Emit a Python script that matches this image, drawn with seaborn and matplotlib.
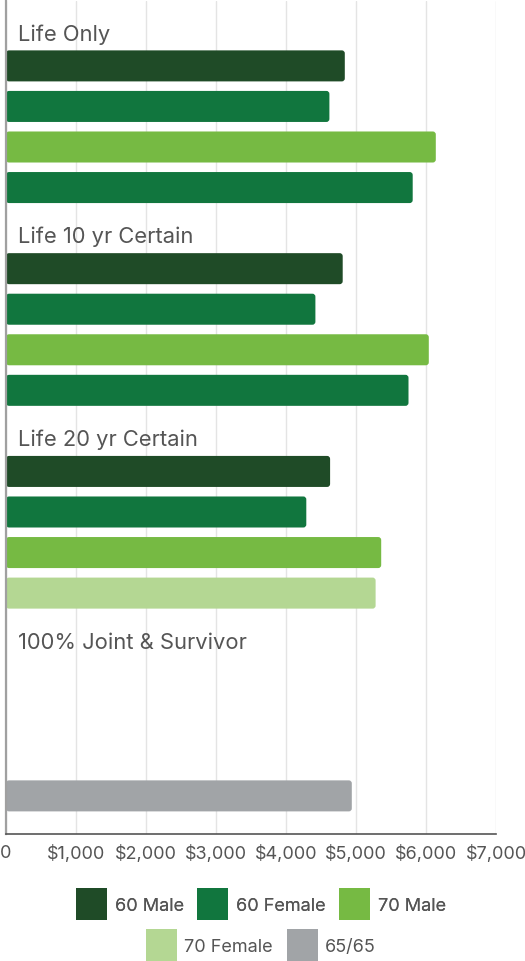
"""
Annuity monthly income comparison: horizontal grouped bars by payout option.
"""

import matplotlib

matplotlib.use("Agg")
import matplotlib.pyplot as plt
import matplotlib.transforms as mtransforms
from matplotlib.patches import FancyBboxPatch, Patch
from matplotlib.ticker import FuncFormatter, MultipleLocator
import pandas as pd
import seaborn as sns

# --- data ------------------------------------------------------------------
groups = ["Life Only", "Life 10 yr Certain", "Life 20 yr Certain", "100% Joint & Survivor"]
bar_series = ["60 Male", "60 Female", "70 Male", "70 Female"]

life_only = [4840, 4620, 6140, 5810]
life_10yr = [4810, 4420, 6040, 5750]
life_20yr = [4630, 4290, 5360, 5280]
joint_survivor = [None, None, None, 4940]

# colour used for each bar slot (the reference colours a few slots oddly)
life_only_colors = ["60 Male", "60 Female", "70 Male", "60 Female"]
life_10yr_colors = ["60 Male", "60 Female", "70 Male", "60 Female"]
life_20yr_colors = ["60 Male", "60 Female", "70 Male", "70 Female"]
joint_colors = ["60 Male", "60 Female", "70 Male", "65/65"]

legend_labels = ["60 Male", "60 Female", "70 Male", "70 Female", "65/65"]
palette = {
    "60 Male": "#1f4b27",
    "60 Female": "#11763e",
    "70 Male": "#76ba43",
    "70 Female": "#b4d793",
    "65/65": "#a1a4a7",
}

x_ticks_step = 1000
x_max = 7000

TEXT = "#555555"

# --- build a long table: one label slot + four bar slots per group ---------
rows = []
order = []
for g, vals, cols in zip(
    groups,
    [life_only, life_10yr, life_20yr, joint_survivor],
    [life_only_colors, life_10yr_colors, life_20yr_colors, joint_colors],
):
    order.append(f"{g}|label")
    for s, v, c in zip(bar_series, vals, cols):
        slot = f"{g}|{s}"
        order.append(slot)
        if v is not None:
            rows.append({"slot": slot, "value": v, "color": c})
df = pd.DataFrame(rows)

sns.set_theme(style="white")
plt.rcParams["font.family"] = ["Inter", "DejaVu Sans"]

fig = plt.figure(figsize=(5.25, 9.62), dpi=100)
ax = fig.add_axes([6 / 525, 1 - 835 / 962, 490 / 525, 833 / 962])

sns.barplot(
    data=df,
    x="value",
    y="slot",
    hue="color",
    order=order,
    palette=palette,
    saturation=1,
    dodge=False,
    width=0.765,
    legend=False,
    orient="h",
    ax=ax,
)

ax.set_xlim(0, x_max)
ax.set_ylim(19.94, -0.6)

# swap square bars for slightly rounded ones (~3 px radius)
px_per_x = 490 / x_max
px_per_y = 833 / 20.54
radius_x = 3 / px_per_x
aspect = (3 / px_per_y) / radius_x
for bar in list(ax.patches):
    x0, y0 = bar.get_x(), bar.get_y()
    w, h = bar.get_width(), bar.get_height()
    if w <= 0:
        continue
    ax.add_patch(FancyBboxPatch(
        (x0, y0), w, h,
        boxstyle=f"round,pad=0,rounding_size={radius_x}",
        mutation_aspect=aspect,
        facecolor=bar.get_facecolor(), edgecolor="none", zorder=bar.get_zorder(),
    ))
    bar.remove()

ax.xaxis.set_major_locator(MultipleLocator(x_ticks_step))
ax.xaxis.set_major_formatter(FuncFormatter(lambda v, _: "0" if v == 0 else f"${v:,.0f}"))
ax.set_yticks([])
ax.set_xlabel("")
ax.set_ylabel("")
ax.set_axisbelow(True)
ax.grid(axis="x", color="#e4e4e4", linewidth=1)
ax.tick_params(axis="x", length=0, pad=7, labelsize=13, labelcolor=TEXT)

for side in ("top", "right"):
    ax.spines[side].set_visible(False)
ax.spines["left"].set_color("#a0a0a0")
ax.spines["left"].set_linewidth(1.6)
ax.spines["bottom"].set_color("#555555")
ax.spines["bottom"].set_linewidth(1.2)

# group headings sit in the empty label slot above each group's bars
trans = mtransforms.blended_transform_factory(ax.transAxes, ax.transData)
for g in groups:
    y = order.index(f"{g}|label") + 0.2
    ax.text(0.025, y, g, transform=trans, ha="left", va="center",
            fontsize=15.8, color=TEXT)

# legend: two centred rows
handles = [Patch(facecolor=palette[k], edgecolor="none", label=k) for k in legend_labels]
leg_kw = dict(
    frameon=False,
    fontsize=13,
    labelcolor=TEXT,
    handlelength=1.72,
    handleheight=2.27,
    handletextpad=0.42,
    columnspacing=0.75,
    loc="center",
)
leg1 = fig.legend(handles=handles[:3], ncol=3, bbox_to_anchor=(0.497, 1 - 905 / 962), **leg_kw)
fig.legend(handles=handles[3:], ncol=2, bbox_to_anchor=(0.497, 1 - 946 / 962), **leg_kw)
fig.add_artist(leg1)

fig.savefig("out.png", dpi=100)
plt.close(fig)
